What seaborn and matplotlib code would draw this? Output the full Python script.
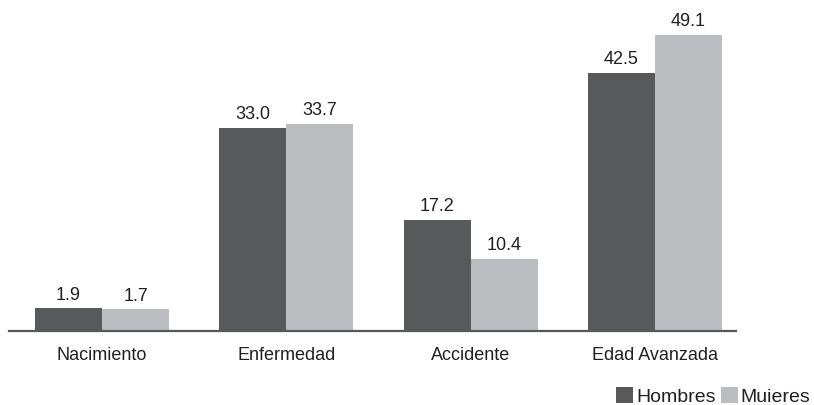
import matplotlib
matplotlib.use("Agg")
import matplotlib.pyplot as plt
import seaborn as sns
import pandas as pd
from matplotlib.patches import Patch

categorias = ["Nacimiento", "Enfermedad", "Accidente", "Edad Avanzada"]
hombres = [1.9, 33.0, 17.2, 42.5]
mujeres = [1.7, 33.7, 10.4, 49.1]
series = ["Hombres", "Muieres"]
colores = ["#58595b", "#bcbdc0"]
texto = "#231f20"

df = pd.DataFrame({
    "categoria": categorias * 2,
    "sexo": [series[0]] * len(categorias) + [series[1]] * len(categorias),
    "valor": hombres + mujeres,
})

sns.set_style("white")
plt.rcParams["font.family"] = ["Liberation Sans", "DejaVu Sans"]

fig = plt.figure(figsize=(8.14, 4.06), dpi=100)
ax = fig.add_axes([9 / 814, (406 - 332) / 406, (736 - 9) / 814, 332 / 406])

sns.barplot(data=df, x="categoria", y="valor", hue="sexo", order=categorias,
            hue_order=series, palette=colores, width=0.727, gap=0,
            errorbar=None, saturation=1, legend=False, ax=ax)

ymin, ymax = -2.02, 55.25
ax.set_ylim(ymin, ymax)
ax.set_xlim(-0.505, 3.44)

# bars rise from the axis line rather than from zero
for cont in ax.containers:
    for p in cont.patches:
        top = p.get_y() + p.get_height()
        p.set_y(ymin)
        p.set_height(top - ymin)
        p.set_linewidth(0)
    ax.bar_label(cont, fmt="%.1f", padding=4, fontsize=13, color=texto)

for s in ["top", "left", "right"]:
    ax.spines[s].set_visible(False)
ax.spines["bottom"].set_color("#58595b")
ax.spines["bottom"].set_linewidth(1.6)
ax.set_yticks([])
ax.set_xlabel("")
ax.set_ylabel("")
ax.tick_params(axis="x", length=0, pad=11, labelsize=13, labelcolor=texto)

handles = [Patch(facecolor=c, edgecolor="none") for c in colores]
fig.legend(handles, series, loc="lower right", bbox_to_anchor=(0.998, -0.006),
           ncol=2, frameon=False, fontsize=14, labelcolor=texto,
           handlelength=0.85, handleheight=0.85, handletextpad=0.15,
           columnspacing=0.3, borderaxespad=0.0, borderpad=0.1)

fig.savefig("out.png", dpi=100)
